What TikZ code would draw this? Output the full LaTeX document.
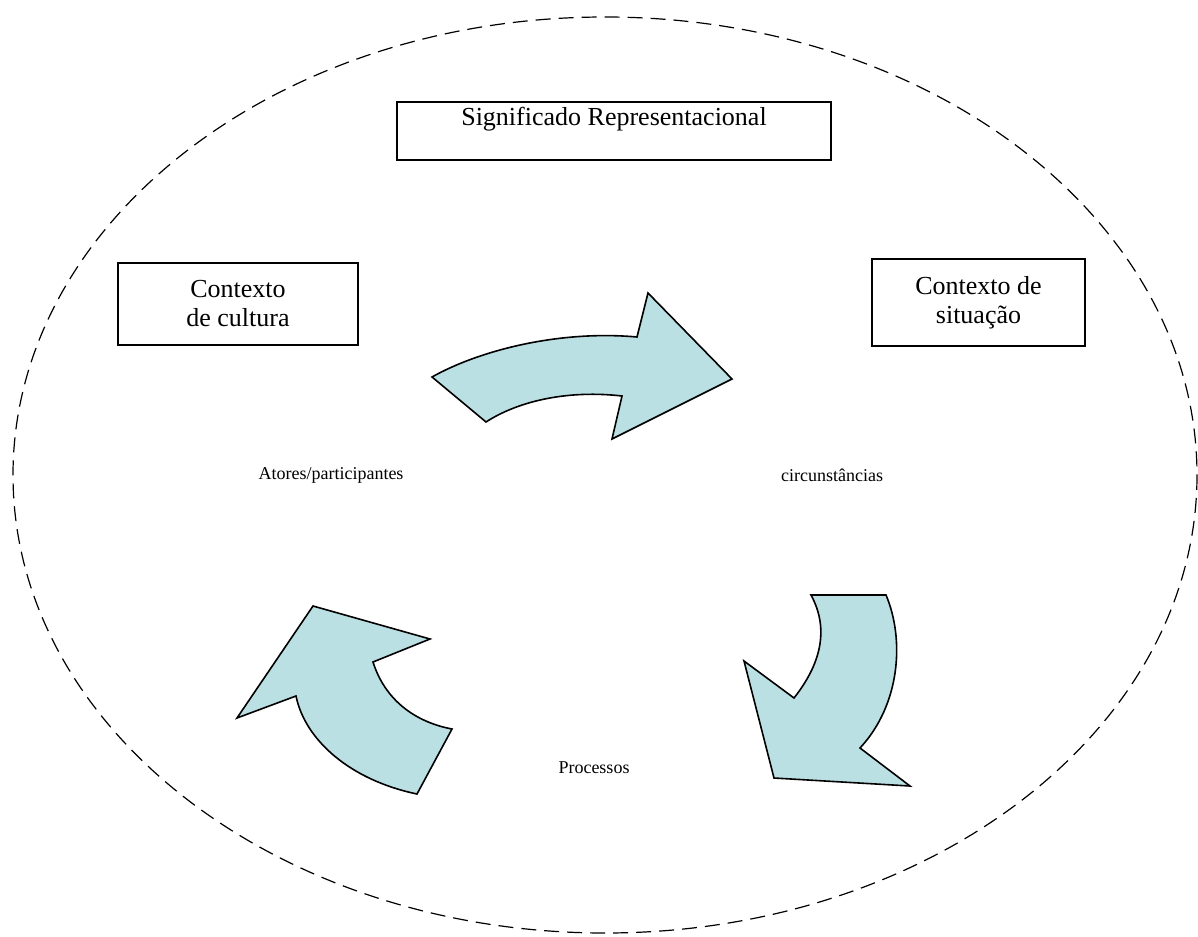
\documentclass[tikz,border=0pt]{standalone}
\usepackage{fontspec}
\setmainfont{Liberation Serif}
\definecolor{arrowblue}{RGB}{187,224,227}
\tikzset{
  frame/.style={draw, line width=0.8pt, align=center, font=\fontsize{13}{14.5}\selectfont},
  small/.style={font=\fontsize{9}{11}\selectfont},
  turn/.style={draw, line width=0.8pt, fill=arrowblue, line join=miter},
}

\begin{document}
\begin{tikzpicture}[x=0.5pt,y=-0.5pt]
  \useasboundingbox (0,0) rectangle (1198,936);
  \draw[dash pattern=on 7.5pt off 4pt, line width=0.6pt] (605,475) ellipse [x radius=592, y radius=458];

  \node[frame, minimum width=217pt, text height=10.5pt, text depth=15.5pt, inner sep=1.5pt] (sig) at (614,131) {Significado Representacional};
  \node[frame, minimum width=120pt, minimum height=41pt] (cult) at (238,304) {Contexto\\de cultura};
  \node[frame, minimum width=106.5pt, minimum height=43.5pt] (sit) at (978.5,302.5) {Contexto de\\situação};

  \node[small] (ator) at (331,475) {Atores/participantes};
  \node[small] (circ) at (832,475) {circunstâncias};
  \node[small] (proc) at (594,768) {Processos};

  % the three turning arrows
  \draw[turn] (432,377) .. controls (480,350) and (560,330) .. (637,337) -- (648,293) -- (732,379)
    -- (612,439) -- (622,396) .. controls (570,390) and (520,400) .. (486,422) -- cycle;
  \draw[turn] (811,595) -- (886,595) .. controls (905,640) and (900,705) .. (860,748) -- (910,786)
    -- (774,778) -- (744,661) -- (794,698) .. controls (820,665) and (830,630) .. (811,595) -- cycle;
  \draw[turn] (313,606) -- (430,639) -- (373,662) .. controls (385,700) and (415,722) .. (452,729)
    -- (417,794) .. controls (350,780) and (305,740) .. (296,696) -- (237,718) -- cycle;
\end{tikzpicture}
\end{document}
